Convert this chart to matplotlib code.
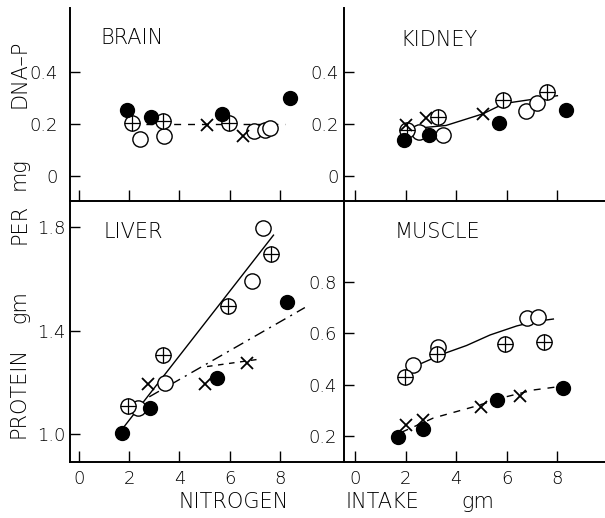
import matplotlib
matplotlib.use("Agg")
import matplotlib.pyplot as plt

plt.rcParams['font.family'] = ['DejaVu Sans']
plt.rcParams['font.weight'] = 'light'

X_TICKS = [0, 2, 4, 6, 8]
X_TICK_LABELS = ["0", "2", "4", "6", "8"]

DNA_TICKS = [0, 0.2, 0.4]
DNA_LABELS = ["0", "0.2", "0.4"]
LIVER_TICKS = [1.0, 1.4, 1.8]
LIVER_LABELS = ["1.0", "1.4", "1.8"]
MUSCLE_TICKS = [0.2, 0.4, 0.6, 0.8]
MUSCLE_LABELS = ["0.2", "0.4", "0.6", "0.8"]

# (nitrogen intake, value) per symbol
BRAIN_FILLED = ([1.93, 2.87, 5.71, 8.40], [0.256, 0.228, 0.238, 0.303])
BRAIN_OPEN = ([2.43, 3.40, 6.97, 7.40, 7.63], [0.141, 0.155, 0.172, 0.179, 0.186])
BRAIN_PLUS = ([2.11, 3.36, 5.97], [0.203, 0.214, 0.205])
BRAIN_CROSS = ([5.09, 6.53], [0.197, 0.153])
BRAIN_LINE = ([2.1, 8.2], [0.2, 0.2])

KIDNEY_FILLED = ([1.95, 2.94, 5.69, 8.34], [0.138, 0.160, 0.206, 0.254])
KIDNEY_OPEN = ([2.52, 3.50, 6.75, 7.21], [0.170, 0.158, 0.251, 0.280])
KIDNEY_PLUS = ([2.04, 3.27, 5.86, 7.58], [0.177, 0.228, 0.295, 0.324])
KIDNEY_CROSS = ([2.02, 2.81, 5.06], [0.196, 0.222, 0.241])
KIDNEY_LINE = ([2.0, 3.6, 5.06, 5.9, 8.0], [0.18, 0.195, 0.24, 0.28, 0.31])

LIVER_FILLED = ([1.70, 2.83, 5.49, 8.30], [1.004, 1.103, 1.216, 1.512])
LIVER_OPEN = ([2.36, 3.43, 6.88, 7.34], [1.100, 1.197, 1.594, 1.796])
LIVER_PLUS = ([1.96, 3.36, 5.95, 7.64], [1.109, 1.306, 1.496, 1.697])
LIVER_CROSS = ([2.76, 5.02, 6.68], [1.193, 1.193, 1.277])
LIVER_SOLID = ([1.8, 7.75], [1.03, 1.77])
LIVER_DASHDOT = ([2.8, 9.0], [1.145, 1.49])
LIVER_DASHED = ([5.1, 7.15], [1.262, 1.29])

MUSCLE_FILLED = ([1.71, 2.68, 5.60, 8.23], [0.197, 0.226, 0.340, 0.385])
MUSCLE_OPEN = ([2.30, 3.29, 6.81, 7.25], [0.476, 0.547, 0.658, 0.661])
MUSCLE_PLUS = ([1.98, 3.25, 5.93, 7.48], [0.428, 0.519, 0.558, 0.567])
MUSCLE_CROSS = ([2.02, 2.70, 4.97, 6.52], [0.243, 0.262, 0.314, 0.356])
MUSCLE_SOLID = ([2.64, 3.5, 4.41, 5.34, 6.39, 7.1, 7.84],
                [0.483, 0.52, 0.552, 0.593, 0.628, 0.645, 0.655])
MUSCLE_DASHED = ([1.85, 3.1, 4.7, 5.95, 7.05, 7.9], [0.215, 0.27, 0.314, 0.352, 0.379, 0.39])

FS = 13
TFS = 15


def draw_points(ax, filled, open_, plus, cross):
    ax.plot(*open_, 'o', ms=11, mfc='white', mec='black', mew=1.0, zorder=3)
    ax.plot(*plus, 'o', ms=11, mfc='white', mec='black', mew=1.0, zorder=3)
    ax.plot(*plus, '+', ms=11, color='black', mew=0.9, zorder=3.5)
    ax.plot(*filled, 'o', ms=10, mfc='black', mec='black', zorder=4)
    ax.plot(*cross, 'x', ms=8, color='black', mew=1.3, zorder=4)


def setup(ax, xlim, ylim, yticks, ylabels, ypad, show_x):
    ax.set_xlim(xlim)
    ax.set_ylim(ylim)
    ax.spines['top'].set_visible(False)
    ax.spines['right'].set_visible(False)
    ax.spines['left'].set_linewidth(1.4)
    ax.spines['bottom'].set_linewidth(1.4)
    ax.set_xticks(X_TICKS)
    ax.set_xticklabels(X_TICK_LABELS)
    ax.tick_params(axis='x', direction='in', length=8, width=1.0, pad=6,
                   labelsize=FS, labelbottom=show_x)
    ax.set_yticks(yticks)
    ax.set_yticklabels(ylabels)
    ax.tick_params(axis='y', direction='in', length=7, width=1.0, pad=ypad,
                   labelsize=FS)
    ax.patch.set_alpha(0)


fig = plt.figure(figsize=(6.05, 5.18), dpi=100)

W, H = 605.0, 518.0
left_x, mid_x, right_x = 70, 344, 605
top_y, mid_y, bot_y = 8, 201, 462

ax_brain = fig.add_axes([left_x / W, 1 - mid_y / H, (mid_x - left_x) / W, (mid_y - top_y) / H])
ax_kidney = fig.add_axes([mid_x / W, 1 - mid_y / H, (right_x - mid_x) / W, (mid_y - top_y) / H])
ax_liver = fig.add_axes([left_x / W, 1 - bot_y / H, (mid_x - left_x) / W, (bot_y - mid_y) / H])
ax_muscle = fig.add_axes([mid_x / W, 1 - bot_y / H, (right_x - mid_x) / W, (bot_y - mid_y) / H])

# brain
ax_brain.plot(*BRAIN_LINE, color='black', lw=1.0, ls=(0, (5, 5)), zorder=2)
draw_points(ax_brain, BRAIN_FILLED, BRAIN_OPEN, BRAIN_PLUS, BRAIN_CROSS)
setup(ax_brain, (-0.36, 10.56), (-0.097, 0.649), DNA_TICKS, DNA_LABELS, 9, False)

# kidney
ax_kidney.plot(*KIDNEY_LINE, color='black', lw=1.0, zorder=2)
draw_points(ax_kidney, KIDNEY_FILLED, KIDNEY_OPEN, KIDNEY_PLUS, KIDNEY_CROSS)
setup(ax_kidney, (-0.43, 9.88), (-0.097, 0.649), DNA_TICKS, DNA_LABELS, 4, False)

# liver
ax_liver.plot(*LIVER_SOLID, color='black', lw=1.0, zorder=2)
ax_liver.plot(*LIVER_DASHDOT, color='black', lw=1.0, ls=(0, (8, 4, 1.5, 4)), zorder=2)
ax_liver.plot(*LIVER_DASHED, color='black', lw=1.0, ls=(0, (4, 4)), zorder=2)
draw_points(ax_liver, LIVER_FILLED, LIVER_OPEN, LIVER_PLUS, LIVER_CROSS)
setup(ax_liver, (-0.36, 10.56), (0.893, 1.902), LIVER_TICKS, LIVER_LABELS, 3, True)

# muscle
ax_muscle.plot(*MUSCLE_SOLID, color='black', lw=1.0, zorder=2)
ax_muscle.plot(*MUSCLE_DASHED, color='black', lw=1.0, ls=(0, (5, 5)), zorder=2)
draw_points(ax_muscle, MUSCLE_FILLED, MUSCLE_OPEN, MUSCLE_PLUS, MUSCLE_CROSS)
setup(ax_muscle, (-0.43, 9.88), (0.099, 1.114), MUSCLE_TICKS, MUSCLE_LABELS, 5, True)

# panel names
fig.text(100 / W, 1 - 38 / H, "BRAIN", fontsize=TFS, ha='left', va='center')
fig.text(400 / W, 1 - 40 / H, "KIDNEY", fontsize=TFS, ha='left', va='center')
fig.text(104 / W, 1 - 232 / H, "LIVER", fontsize=TFS, ha='left', va='center')
fig.text(395 / W, 1 - 232 / H, "MUSCLE", fontsize=TFS, ha='left', va='center')

# y axis title pieces
for word, yc in [("PROTEIN", 393), ("gm", 307), ("PER", 224), ("mg", 174), ("DNA\u2013P", 74)]:
    fig.text(19 / W, 1 - yc / H, word, fontsize=TFS, rotation=90, ha='center', va='center')

# x axis title pieces
for word, xc in [("NITROGEN", 234), ("INTAKE", 382), ("gm", 478)]:
    fig.text(xc / W, 1 - 502 / H, word, fontsize=TFS, ha='center', va='center')

fig.savefig("out.png", dpi=100)
